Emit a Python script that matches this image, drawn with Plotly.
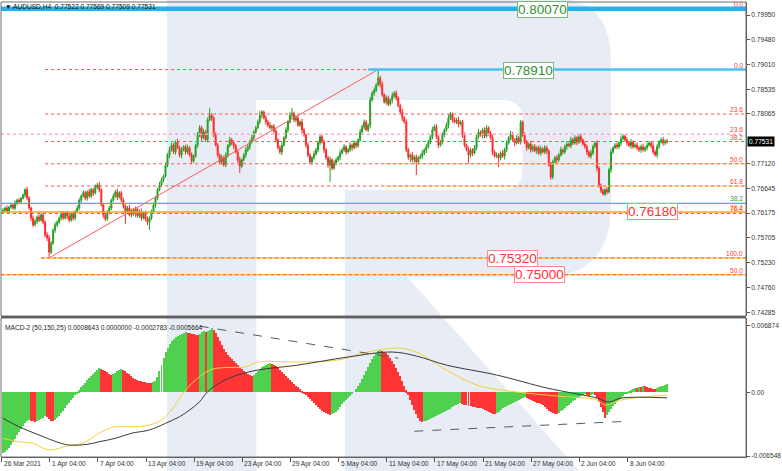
import plotly.graph_objects as go

# ---------------- data (prices in pips of 0.0001) ----------------
first_open_pips = 7620
close_pips = [
    7623,7627,7621,7629,7633,7627,7637,7642,7639,7646,7652,7662,7646,7627,7608,7595,7602,7610,7604,7614,
    7600,7576,7570,7543,7560,7585,7595,7600,7608,7616,7608,7618,7612,7604,7616,7608,7620,7627,7642,7650,
    7656,7646,7658,7650,7662,7656,7667,7671,7662,7633,7614,7606,7620,7627,7642,7650,7658,7648,7656,7642,
    7631,7620,7627,7614,7623,7616,7625,7612,7620,7608,7618,7606,7600,7608,7620,7633,7646,7662,7671,7681,
    7688,7709,7728,7738,7747,7734,7753,7742,7728,7738,7744,7734,7742,7728,7717,7726,7747,7766,7780,7761,
    7772,7757,7795,7804,7799,7766,7747,7728,7715,7723,7709,7728,7746,7757,7751,7746,7734,7719,7707,7719,
    7728,7738,7744,7753,7761,7772,7780,7791,7804,7810,7799,7791,7785,7780,7783,7774,7757,7742,7734,7747,
    7761,7776,7791,7804,7808,7795,7799,7785,7791,7776,7766,7747,7728,7715,7723,7730,7738,7751,7763,7753,
    7738,7723,7709,7719,7703,7713,7719,7724,7732,7738,7744,7734,7738,7747,7742,7751,7746,7757,7772,7782,
    7791,7776,7785,7833,7846,7852,7862,7875,7863,7843,7829,7837,7825,7833,7841,7846,7837,7822,7810,7799,
    7791,7738,7724,7728,7719,7724,7715,7723,7726,7732,7738,7744,7753,7763,7776,7782,7763,7747,7753,7766,
    7776,7785,7799,7806,7795,7791,7795,7787,7791,7766,7747,7738,7728,7738,7732,7742,7763,7772,7766,7776,
    7764,7780,7770,7761,7734,7726,7728,7723,7732,7726,7738,7751,7761,7768,7757,7751,7761,7753,7791,7766,
    7753,7742,7749,7738,7744,7736,7742,7732,7740,7734,7742,7736,7709,7686,7715,7723,7719,7728,7738,7734,
    7744,7749,7746,7757,7751,7761,7753,7763,7757,7749,7744,7734,7726,7732,7744,7751,7703,7671,7660,7654,
    7662,7658,7700,7734,7742,7747,7744,7751,7759,7764,7757,7751,7746,7753,7744,7747,7742,7738,7744,7738,
    7742,7747,7751,7746,7734,7728,7744,7753,7757,7751,7755,7753,
]
upper_wick_pips = [
    4,3,5,2,4,3,5,3,4,2,3,3,6,4,3,5,4,3,5,4,
    3,4,5,6,4,3,5,4,3,4,5,3,4,6,3,4,3,5,4,3,
    5,4,3,6,4,3,5,4,6,3,4,5,3,4,3,5,4,6,3,4,
    5,3,4,6,3,4,5,3,4,6,3,4,5,3,4,5,4,3,6,4,
    3,5,4,6,5,4,3,6,4,5,3,4,6,3,5,4,3,6,5,4,
    6,4,5,14,4,3,5,4,3,6,4,5,3,6,4,5,3,4,6,3,
    4,5,3,4,6,3,4,5,8,4,3,5,4,6,3,4,5,3,4,6,
    3,5,4,6,10,3,5,4,3,6,4,3,5,4,3,6,4,5,3,4,
    5,3,4,6,3,5,4,3,6,4,5,3,4,6,3,5,4,3,6,4,
    5,4,3,6,4,5,3,16,4,6,3,5,4,3,6,4,5,3,4,6,
    3,5,4,3,6,4,5,3,4,6,3,5,4,3,6,4,5,3,4,6,
    3,5,6,4,3,5,4,6,3,4,5,3,6,4,3,5,4,6,3,4,
    5,5,3,4,6,3,5,4,3,6,4,5,3,6,4,3,5,4,4,3,
    5,4,3,6,4,5,3,4,6,3,5,4,3,6,4,3,5,4,6,3,
    4,5,3,6,4,5,3,4,6,3,5,4,3,6,4,3,5,4,3,4,
    3,5,4,6,3,4,5,3,6,4,3,5,4,6,3,4,5,3,4,6,
    3,5,4,3,6,4,5,3,4,6,3,4,
]
lower_wick_pips = [
    3,4,3,5,4,3,4,5,3,4,3,5,4,3,6,4,3,5,4,3,
    4,5,6,11,4,3,5,4,3,5,4,3,6,4,3,5,4,3,4,5,
    3,4,5,3,4,6,3,4,5,3,6,4,3,5,4,3,4,6,3,4,
    5,23,4,3,5,4,6,3,4,5,3,4,6,15,4,3,5,4,3,4,
    5,3,4,6,3,4,5,3,4,6,3,5,4,3,6,4,3,5,4,6,
    3,4,5,3,6,4,3,5,4,6,3,4,5,3,4,6,3,5,13,4,
    3,5,4,6,3,4,5,3,4,6,3,5,4,3,6,4,5,3,4,6,
    3,4,5,3,6,4,5,3,4,6,3,5,4,3,6,4,3,5,4,3,
    6,4,5,32,4,3,5,4,6,3,4,5,3,4,6,3,5,4,3,4,
    5,3,4,6,3,5,4,3,6,4,3,5,4,3,6,4,5,3,4,6,
    3,4,5,10,4,6,25,4,3,5,4,6,3,4,5,3,4,6,3,5,
    4,3,6,4,5,3,4,6,3,5,4,3,15,4,6,3,5,4,3,6,
    4,3,5,4,6,3,4,18,5,3,6,4,3,5,4,6,3,4,5,3,
    4,6,3,5,4,3,6,4,5,3,4,6,3,5,4,3,6,4,3,5,
    4,6,3,5,4,3,6,4,5,3,4,6,3,5,4,3,6,5,4,3,
    4,5,3,6,4,3,5,4,6,3,4,5,3,6,4,3,5,4,6,3,
    4,5,3,6,4,3,5,4,3,5,4,3,
]
# MACD-2 histogram, in units of 0.0001
macd_hist = [
    -62,-61,-59,-57,-54,-51,-48,-44,-41,-38,-35,-32,-30,-28,-29,-30,-31,-29,-28,-27,
    -26,-24,-25,-27,-29,-30,-28,-26,-24,-21,-19,-16,-13,-11,-8,-6,-3,-1,2,5,
    8,10,13,15,17,19,21,23,25,24,23,22,21,19,18,19,20,22,23,24,
    23,22,20,19,17,15,14,13,12,12,11,11,10,10,10,11,12,16,22,28,
    35,41,46,50,53,55,57,58,59,60,61,62,61,61,60,60,59,59,60,62,
    63,62,63,64,66,64,61,57,53,49,45,41,38,36,34,32,30,28,26,24,
    22,20,19,18,17,18,20,22,24,26,27,28,29,30,29,28,27,25,23,21,
    19,17,15,13,11,9,7,5,3,1,-1,-3,-5,-7,-9,-11,-13,-15,-17,-19,
    -20,-21,-22,-23,-22,-21,-20,-18,-15,-12,-10,-8,-6,-4,-2,0,3,6,10,14,
    18,22,26,30,34,37,40,42,43,42,41,40,38,35,32,29,25,21,17,12,
    7,2,-3,-8,-13,-18,-22,-26,-29,-31,-30,-29,-28,-27,-26,-25,-24,-23,-22,-21,
    -20,-19,-18,-17,-15,-14,-13,-12,-11,-12,-13,-13,-14,-14,-15,-15,-16,-16,-16,-17,
    -18,-19,-20,-21,-22,-22,-21,-20,-18,-16,-15,-14,-13,-12,-11,-10,-9,-8,-7,-6,
    -5,-6,-7,-8,-9,-10,-11,-11,-12,-13,-15,-17,-19,-20,-21,-22,-22,-21,-19,-18,
    -16,-14,-13,-11,-9,-8,-6,-5,-4,-3,-2,-3,-4,-3,-2,-3,-6,-10,-15,-20,
    -26,-23,-20,-17,-14,-12,-10,-8,-6,-4,-2,-1,1,2,3,4,4,5,5,6,
    6,5,4,4,3,3,4,5,6,7,8,8.6,
]
# MACD-2 lines sampled at bar indices (units of 0.0001)
yellow_bars = [0, 8, 15, 23, 32, 40, 48, 56, 64, 73, 79, 84, 91, 98, 104, 114, 121, 127, 147, 167, 182, 197, 206, 221, 236, 256, 276, 296, 300, 308, 331]
yellow_vals = [-47.3, -50.8, -52.4, -59.3, -55.2, -52.1, -41.8, -35.4, -35.4, -33.6, -28.5, -18.2, 2.4, 16.0, 23.6, 25.7, 26.0, 31.1, 31.1, 33.2, 41.4, 45.5, 41.4, 22.9, 7.5, 0.3, -3.8, -7.9, -13.1, -7.9, -2.8]
black_bars = [0, 8, 18, 28, 33, 42, 48, 56, 64, 73, 81, 88, 93, 98, 102, 109, 117, 127, 147, 172, 194, 206, 221, 246, 271, 281, 296, 302, 308, 331]
black_vals = [-26.7, -35.4, -43.9, -51.8, -54.2, -53.5, -50.8, -47.3, -42.1, -38.7, -31.9, -25.1, -18.2, -9.7, 0.6, 10.9, 17.8, 22.9, 28.0, 36.3, 41.4, 37.3, 28.0, 17.8, 4.4, 0.3, -5.9, -10.0, -5.9, -5.7]
# MACD trend lines (bar, value 0.0001)
macd_trend_upper = [(98, 68.0), (197, 35.0)]
macd_trend_lower = [(205, -40.0), (309, -30.0)]

# Fibonacci
fib_low, fib_high = 0.7532, 0.7891
fib_low_bar, fib_high_bar = 23, 187
fib1_pct = [0.0, 23.6, 38.2, 50.0, 61.8, 76.4, 100.0]
fib2_top, fib2_half = 0.8007, 0.7500
fib2_pct = [0.0, 23.6, 38.2, 50.0]
aux_level = 0.7636

# (the 0.77590 tick is hidden behind the current-price box in the reference)
price_ticks = [0.79950, 0.79480, 0.79010, 0.78535, 0.78065, 0.77120,
               0.76645, 0.76175, 0.75705, 0.75230, 0.74760, 0.74285]
macd_ticks = [0.006874, 0.0, -0.006548]
macd_tick_text = ["0.006874", "0.00", "-0.006548"]
time_tick_bars = [-0.99, 23, 47, 71, 95, 119, 143, 167, 191, 215, 239, 263, 287, 311]
time_tick_text = ["26 Mar 2021", "1 Apr 04:00", "7 Apr 04:00", "13 Apr 04:00", "19 Apr 04:00",
                  "23 Apr 04:00", "29 Apr 04:00", "5 May 04:00", "11 May 04:00", "17 May 04:00",
                  "21 May 04:00", "27 May 04:00", "2 Jun 04:00", "8 Jun 04:00"]
last_price = 0.77531
header = "\u25bc AUDUSD,H4  0.77522 0.77569 0.77509 0.77531"
macd_header = "MACD-2 (50,150,25) 0.0008643 0.0000000 -0.0002783 -0.0005664"

# ---------------- derived series ----------------
n = len(close_pips)
bars = list(range(n))
opens_p = [first_open_pips] + close_pips[:-1]
closes = [c / 1e4 for c in close_pips]
opens = [o / 1e4 for o in opens_p]
highs = [(max(o, c) + u) / 1e4 for o, c, u in zip(opens_p, close_pips, upper_wick_pips)]
lows = [(min(o, c) - w) / 1e4 for o, c, w in zip(opens_p, close_pips, lower_wick_pips)]
hist = [v / 1e4 for v in macd_hist]
hist_colors = ['#4fd04f' if (i == 0 or macd_hist[i] > macd_hist[i - 1]) else '#ff3535' for i in range(len(macd_hist))]
fib1_prices = [fib_high - (fib_high - fib_low) * p / 100 for p in fib1_pct]
fib2_prices = [fib2_top - (fib2_top - fib2_half) * 2 * p / 100 for p in fib2_pct]

# ---------------- geometry ----------------
W, H = 782, 471
LM, RM, TM, BM = 1, 31, 2, 14
PW, PH = W - LM - RM, H - TM - BM
def px(x): return (x - LM) / PW
def py(y): return (H - BM - y) / PH
XMIN, XMAX = -0.99, -0.99 + PW / 2.02
FONT = "Liberation Sans, Arial, sans-serif"
SMALL = 6.6

fig = go.Figure()

fig.add_trace(go.Candlestick(
    x=bars, open=opens, high=highs, low=lows, close=closes,
    increasing=dict(line=dict(color='#23a023', width=1), fillcolor='#23a023'),
    decreasing=dict(line=dict(color='#ff2a2a', width=1), fillcolor='#ff2a2a'),
    whiskerwidth=0, xaxis='x', yaxis='y', showlegend=False, hoverinfo='skip'))

# fib diagonal
fig.add_trace(go.Scatter(x=[fib_low_bar, fib_high_bar], y=[fib_low, fib_high], mode='lines',
                         line=dict(color='#ff5a5a', width=1), xaxis='x', yaxis='y',
                         showlegend=False, hoverinfo='skip'))

# MACD
fig.add_trace(go.Bar(x=list(range(len(hist))), y=hist, marker=dict(color=hist_colors, line=dict(width=0)),
                     width=0.5, xaxis='x', yaxis='y2', showlegend=False, hoverinfo='skip'))
fig.add_trace(go.Scatter(x=yellow_bars, y=[v / 1e4 for v in yellow_vals], mode='lines',
                         line=dict(color='#f2d23c', width=1, shape='spline'), xaxis='x', yaxis='y2',
                         showlegend=False, hoverinfo='skip'))
fig.add_trace(go.Scatter(x=black_bars, y=[v / 1e4 for v in black_vals], mode='lines',
                         line=dict(color='#3a3a3a', width=1, shape='spline'), xaxis='x', yaxis='y2',
                         showlegend=False, hoverinfo='skip'))
for seg in (macd_trend_upper, macd_trend_lower):
    fig.add_trace(go.Scatter(x=[p[0] for p in seg], y=[p[1] / 1e4 for p in seg], mode='lines',
                             line=dict(color='#5a5a5a', width=1, dash='dash'), xaxis='x', yaxis='y2',
                             showlegend=False, hoverinfo='skip'))

shapes = []
# watermark "R"
R = [('M', 168, -2), ('L', 555, -2), ('Q', 615, -2, 615, 60), ('L', 615, 205),
     ('Q', 615, 277, 545, 277), ('L', 410, 277), ('L', 585, 473), ('L', 347, 473),
     ('L', 347, 190), ('L', 505, 190), ('Q', 526, 190, 526, 170), ('L', 526, 120),
     ('Q', 526, 100, 505, 100), ('L', 258, 100), ('L', 258, 473), ('L', 168, 473)]
parts = []
for cmd in R:
    c, pts = cmd[0], cmd[1:]
    coords = []
    for k in range(0, len(pts), 2):
        coords.append(f"{px(pts[k]):.5f},{py(pts[k+1]):.5f}")
    parts.append(c + ' ' + ' '.join(coords))
shapes.append(dict(type='path', path=' '.join(parts) + ' Z', xref='paper', yref='paper',
                   fillcolor='#e8ecf4', line=dict(width=0), layer='below'))

def hline(price, x0, color, width=1, dash='solid'):
    shapes.append(dict(type='line', xref='x', yref='y', x0=x0, x1=XMAX, y0=price, y1=price,
                       line=dict(color=color, width=width, dash=dash), layer='above'))

FIB_START = 21
SET2_START = 190
# fib set 1
hline(fib1_prices[0], FIB_START, '#ff5050', 1, 'dot')
for k in (1, 2):
    hline(fib1_prices[k], FIB_START, '#ff5050', 1, 'dot')
for k in (3, 4):
    hline(fib1_prices[k], SET2_START, '#ffd27a', 1)
    hline(fib1_prices[k], FIB_START, '#ff5050', 1, 'dot')
hline(fib1_prices[6], FIB_START - 2, '#ffc845', 1.5)
hline(fib1_prices[6], FIB_START - 2, '#ff5050', 1, 'dot')
# fib set 2
hline(fib2_prices[1], XMIN, '#f6a9d2', 1.5, 'dot')
hline(aux_level, XMIN, '#3bb6e2', 1.2)
hline(fib2_prices[2], XMIN, '#ffa020', 1.5)
hline(fib1_prices[5], XMIN, '#ff5050', 1, 'dot')
hline(fib2_prices[3], XMIN, '#ffc845', 1.5)
hline(fib2_prices[3], XMIN, '#ff5050', 1, 'dot')
# blue 0.0 levels
hline(fib2_prices[0], XMIN, '#22b2ec', 4.5)
hline(fib1_prices[0], fib_high_bar - 5, '#4cc0ee', 2.5)

# frames
shapes.append(dict(type='rect', xref='paper', yref='paper', x0=0, x1=1, y0=py(316), y1=1,
                   line=dict(color='#707070', width=1), layer='above'))
shapes.append(dict(type='rect', xref='paper', yref='paper', x0=0, x1=1, y0=0, y1=py(318),
                   line=dict(color='#707070', width=1), layer='above'))
shapes.append(dict(type='line', xref='paper', yref='paper', x0=0, x1=1, y0=py(317), y1=py(317),
                   line=dict(color='#606060', width=2), layer='above'))

ann = []
ann.append(dict(text=header, xref='paper', yref='paper', x=px(3), y=py(6.5), xanchor='left',
                yanchor='middle', showarrow=False, font=dict(family=FONT, size=SMALL, color='#111')))
ann.append(dict(text=macd_header, xref='paper', yref='paper', x=px(3), y=py(328), xanchor='left',
                yanchor='middle', showarrow=False, font=dict(family=FONT, size=SMALL, color='#222')))

# percent labels
pct_labels = [(fib2_prices[0], "0.0", '#ff4040'), (fib1_prices[0], "0.0", '#ff4040'),
              (fib1_prices[1], "23.6", '#ff4040'), (fib2_prices[1], "23.6", '#ff4040'),
              (fib1_prices[2], "38.2", '#ff4040'), (fib1_prices[3], "50.0", '#ff4040'),
              (fib1_prices[4], "61.8", '#ff4040'), (aux_level, "38.2", '#3a9a3a'),
              (fib2_prices[2], "38.2", '#ff9020'), (fib1_prices[5], "76.4", '#ff4040'),
              (fib1_prices[6], "100.0", '#ff4040'), (fib2_prices[3], "50.0", '#ff4040')]
for price, txt, col in pct_labels:
    ann.append(dict(text=txt, xref='paper', yref='y', x=px(750), y=price, xanchor='right',
                    yanchor='bottom', yshift=-1, showarrow=False,
                    font=dict(family=FONT, size=SMALL, color=col)))

def big_label(txt, cx, cy, col, border):
    ann.append(dict(text=txt, xref='paper', yref='paper', x=px(cx), y=py(cy), xanchor='center',
                    yanchor='middle', showarrow=False, bgcolor='white', bordercolor=border,
                    borderwidth=1, borderpad=0, font=dict(family=FONT, size=13.5, color=col)))

big_label(f"{fib2_prices[0]:.5f}", 546, 9.5, '#2f8f2f', '#7ab87a')
big_label(f"{fib1_prices[0]:.5f}", 532, 70.5, '#2f8f2f', '#7ab87a')
big_label("0.76180", 657, 211.5, '#ff3030', '#ff8a8a')
big_label(f"{fib_low:.5f}", 516, 258, '#ff3030', '#ff8a8a')
big_label(f"{fib2_prices[3]:.5f}", 543, 274.5, '#ff3030', '#ff8a8a')

# current price box
ann.append(dict(text=f"{last_price:.5f}", xref='paper', yref='y', x=px(752), y=last_price,
                xanchor='left', yanchor='middle', showarrow=False, bgcolor='black', borderpad=1,
                font=dict(family=FONT, size=SMALL, color='white')))

# time labels
for b, t in zip(time_tick_bars, time_tick_text):
    ann.append(dict(text=t, xref='x', yref='paper', x=b, y=py(463.5), xanchor='left', xshift=0.5,
                    yanchor='middle', showarrow=False, font=dict(family=FONT, size=SMALL, color='#333')))

fig.update_layout(
    width=W, height=H, margin=dict(l=LM, r=RM, t=TM, b=BM),
    paper_bgcolor='white', plot_bgcolor='rgba(0,0,0,0)',
    shapes=shapes, annotations=ann, showlegend=False, bargap=0,
    xaxis=dict(domain=[0, 1], range=[XMIN, XMAX], anchor='y2', showgrid=False, zeroline=False,
               showticklabels=False, ticks='outside', tickvals=[b + 0.3 for b in time_tick_bars],
               ticklen=4, tickcolor='#555', showline=True, linecolor='#555',
               rangeslider=dict(visible=False), fixedrange=True),
    yaxis=dict(domain=[py(316), 1], range=[0.80236 - 0.0001906 * 316, 0.80236 - 0.0001906 * TM],
               side='right', anchor='x', tickvals=price_ticks, ticktext=[f"{t:.5f}" for t in price_ticks],
               ticks='outside', ticklen=3, tickcolor='#555', showline=True, linecolor='#555',
               showgrid=False, zeroline=False, tickfont=dict(family=FONT, size=SMALL, color='#333')),
    yaxis2=dict(domain=[0, py(318)], range=[-0.00665, (392.3 - 318) * 1.028e-4],
                side='right', anchor='x', tickvals=macd_ticks, ticktext=macd_tick_text,
                ticks='outside', ticklen=3, tickcolor='#555', showline=True, linecolor='#555',
                showgrid=False, zeroline=False, tickfont=dict(family=FONT, size=SMALL, color='#333')),
)

fig.write_html("out.html", config={'displayModeBar': False},
               post_script="document.body.style.margin='0';document.body.style.overflow='hidden';")
